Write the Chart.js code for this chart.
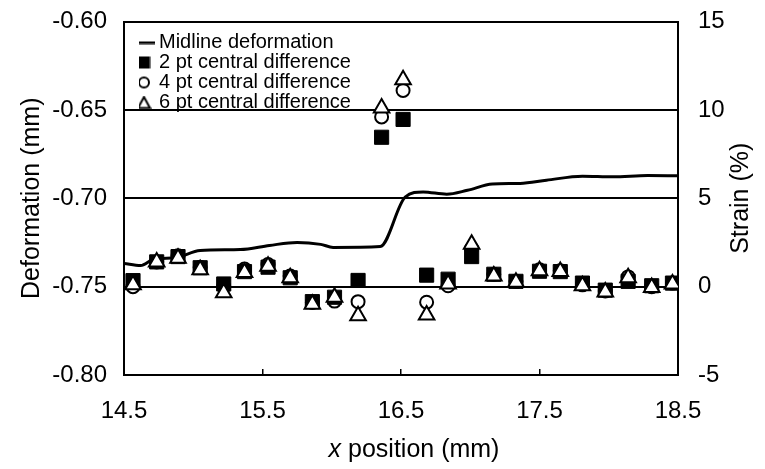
<!DOCTYPE html>
<html>
<head>
<meta charset="utf-8">
<script src="https://cdn.jsdelivr.net/npm/chart.js@4.4.1/dist/chart.umd.min.js"></script>
<style>
  html, body { margin: 0; padding: 0; background: #fff; }
  #wrap { width: 765px; height: 469px; }
</style>
</head>
<body>
<div id="wrap"><canvas id="chart" width="765" height="469"></canvas></div>
<script>
'use strict';
/* global Chart */

// Midline deformation (left axis, mm)
const midX = [14.50, 14.62, 14.71, 14.88, 15.05, 15.34, 15.55, 15.75, 15.92, 16.01, 16.35,
  16.53, 16.66, 16.83, 16.98, 17.16, 17.36, 17.55, 17.81, 18.03, 18.28, 18.50];
const midDef = [-0.7369, -0.7381, -0.7347, -0.7335, -0.7295, -0.7290, -0.7267, -0.7250, -0.7261, -0.7278, -0.7273,
  -0.6994, -0.6964, -0.6977, -0.6955, -0.6920, -0.6916, -0.6898, -0.6875, -0.6879, -0.6871, -0.6873];

// Strain estimates (right axis, %)
const strainX = [14.565, 14.736, 14.89, 15.05, 15.22, 15.37, 15.54, 15.70, 15.86, 16.02, 16.19, 16.36,
  16.515, 16.685, 16.84, 17.01, 17.17, 17.33, 17.50, 17.65, 17.81, 17.975, 18.14, 18.31, 18.46];
const strain2pt = [0.34, 1.4, 1.7, 1.07, 0.15, 0.85, 1.1, 0.5, -0.85, -0.6, 0.35, 8.45,
  9.46, 0.65, 0.42, 1.7, 0.7, 0.3, 0.87, 0.85, 0.2, -0.2, 0.3, 0.05, 0.2];
const strain4pt = [0.0, 1.4, 1.75, 1.1, 0.0, 1.0, 1.25, 0.6, -0.9, -0.82, -0.85, 9.6,
  11.1, -0.88, 0.05, 2.15, 0.7, 0.3, 0.95, 0.9, 0.1, -0.25, 0.55, 0.0, 0.2];
const strain6pt = [0.1, 1.4, 1.6, 0.95, -0.35, 0.8, 1.15, 0.5, -1.0, -0.6, -1.65, 10.1,
  11.7, -1.6, 0.15, 2.4, 0.6, 0.25, 0.9, 0.85, 0.05, -0.3, 0.5, -0.05, 0.15];

const seriesNames = ['Midline deformation', '2 pt central difference', '4 pt central difference', '6 pt central difference'];

const xTicks = [14.5, 15.5, 16.5, 17.5, 18.5];
const defTicks = [-0.80, -0.75, -0.70, -0.65, -0.60];
const strainTicks = [-5, 0, 5, 10, 15];

const FONT = "'Liberation Sans', Arial, Helvetica, sans-serif";
Chart.defaults.font.family = FONT;
Chart.defaults.color = '#000';

const pairs = (xs, ys) => xs.map((x, i) => ({ x, y: ys[i] }));

// small legend glyphs
function glyph(w, h, draw) {
  const c = document.createElement('canvas');
  c.width = w; c.height = h;
  const g = c.getContext('2d');
  g.strokeStyle = '#000'; g.fillStyle = '#000'; g.lineWidth = 2;
  draw(g);
  return c;
}
const legendGlyphs = [
  glyph(22, 4, g => { g.fillRect(0, 1, 22, 2.5); }),
  glyph(13, 13, g => { g.fillRect(0.5, 0.5, 12, 12); }),
  glyph(14, 14, g => { g.beginPath(); g.arc(7, 7, 5, 0, Math.PI * 2); g.fillStyle = '#fff'; g.fill(); g.stroke(); }),
  glyph(15, 14, g => {
    g.beginPath(); g.moveTo(7.5, 1.5); g.lineTo(13.5, 12.5); g.lineTo(1.5, 12.5); g.closePath();
    g.fillStyle = '#fff'; g.fill(); g.stroke();
  })
];

const fixedTicks = list => scale => { scale.ticks = list.map(v => ({ value: v })); };
const noPad = s => { s.paddingTop = 0; s.paddingBottom = 0; };

// legend sits inside the plot, upper left
const legendNudge = {
  id: 'legendNudge',
  afterLayout(chart) {
    const lg = chart.legend;
    if (!lg) return;
    const w = lg.width, h = lg.height;
    lg.left = chart.chartArea.left + 15; lg.right = lg.left + w;
    lg.top = chart.chartArea.top + 11; lg.bottom = lg.top + h;
  }
};

// axis titles: italic x, right title reading upwards
const axisTitles = {
  id: 'axisTitles',
  afterDraw(chart) {
    const { ctx, chartArea } = chart;
    const italic = 'italic 25px ' + FONT;
    const normal = '25px ' + FONT;
    ctx.save();
    ctx.fillStyle = '#000';
    ctx.textBaseline = 'middle';
    ctx.font = italic;
    const w1 = ctx.measureText('x').width;
    ctx.font = normal;
    const w2 = ctx.measureText(' position (mm)').width;
    const x0 = (chartArea.left + chartArea.right) / 2 + 13 - (w1 + w2) / 2;
    ctx.font = italic;
    ctx.fillText('x', x0, 450);
    ctx.font = normal;
    ctx.fillText(' position (mm)', x0 + w1, 450);

    ctx.translate(chartArea.right + 63, (chartArea.top + chartArea.bottom) / 2);
    ctx.rotate(-Math.PI / 2);
    ctx.textAlign = 'center';
    ctx.fillText('Strain (%)', 0, 0);
    ctx.restore();
  }
};

new Chart(document.getElementById('chart'), {
  type: 'scatter',
  data: {
    datasets: [
      {
        label: seriesNames[0],
        data: pairs(midX, midDef),
        yAxisID: 'y',
        showLine: true,
        borderColor: '#000',
        backgroundColor: '#000',
        borderWidth: 3,
        pointRadius: 0,
        cubicInterpolationMode: 'monotone',
        order: 4
      },
      {
        label: seriesNames[1],
        data: pairs(strainX, strain2pt),
        yAxisID: 'y2',
        pointStyle: 'rect',
        pointRadius: 10,
        backgroundColor: '#000',
        borderColor: '#000',
        borderWidth: 1,
        order: 2
      },
      {
        label: seriesNames[2],
        data: pairs(strainX, strain4pt),
        yAxisID: 'y2',
        pointStyle: 'circle',
        pointRadius: 6.5,
        backgroundColor: '#fff',
        borderColor: '#000',
        borderWidth: 2,
        order: 3
      },
      {
        label: seriesNames[3],
        data: pairs(strainX, strain6pt),
        yAxisID: 'y2',
        pointStyle: 'triangle',
        pointRadius: 9,
        backgroundColor: '#fff',
        borderColor: '#000',
        borderWidth: 2,
        order: 1
      }
    ]
  },
  options: {
    responsive: false,
    animation: false,
    devicePixelRatio: 1,
    layout: { padding: { top: 21.5, left: 0, right: 0, bottom: 0 } },
    plugins: {
      tooltip: { enabled: false },
      legend: {
        position: 'chartArea',
        align: 'start',
        labels: {
          usePointStyle: true,
          pointStyleWidth: 10,
          padding: 0,
          color: '#000',
          font: { size: 20 },
          sort: (a, b) => a.datasetIndex - b.datasetIndex,
          generateLabels(chart) {
            const items = Chart.defaults.plugins.legend.labels.generateLabels(chart);
            items.forEach(it => { it.pointStyle = legendGlyphs[it.datasetIndex]; });
            return items;
          }
        }
      }
    },
    scales: {
      x: {
        type: 'linear',
        min: 14.5,
        max: 18.5,
        afterBuildTicks: fixedTicks(xTicks),
        afterFit: s => { s.height = 94; },
        ticks: { font: { size: 24 }, color: '#000', padding: 28, maxRotation: 0, callback: v => v.toFixed(1) },
        grid: { drawOnChartArea: false, drawTicks: true, tickLength: -6, color: '#000', lineWidth: 1.5 },
        border: { color: '#000', width: 2 },
        title: { display: false }
      },
      y: {
        position: 'left',
        min: -0.80,
        max: -0.60,
        afterBuildTicks: fixedTicks(defTicks),
        afterFit: s => { s.width = 124; noPad(s); },
        ticks: { font: { size: 24 }, color: '#000', padding: 17, callback: v => v.toFixed(2) },
        grid: { color: '#000', lineWidth: 2, drawTicks: false },
        border: { color: '#000', width: 2 },
        title: { display: true, text: 'Deformation (mm)', font: { size: 25 }, color: '#000', padding: { top: 17 } }
      },
      y2: {
        position: 'right',
        min: -5,
        max: 15,
        afterBuildTicks: fixedTicks(strainTicks),
        afterFit: s => { s.width = 87; noPad(s); },
        ticks: { font: { size: 24 }, color: '#000', padding: 12 },
        grid: { display: false, drawOnChartArea: false },
        border: { color: '#000', width: 2 },
        title: { display: false }
      }
    }
  },
  plugins: [legendNudge, axisTitles]
});
</script>
</body>
</html>
